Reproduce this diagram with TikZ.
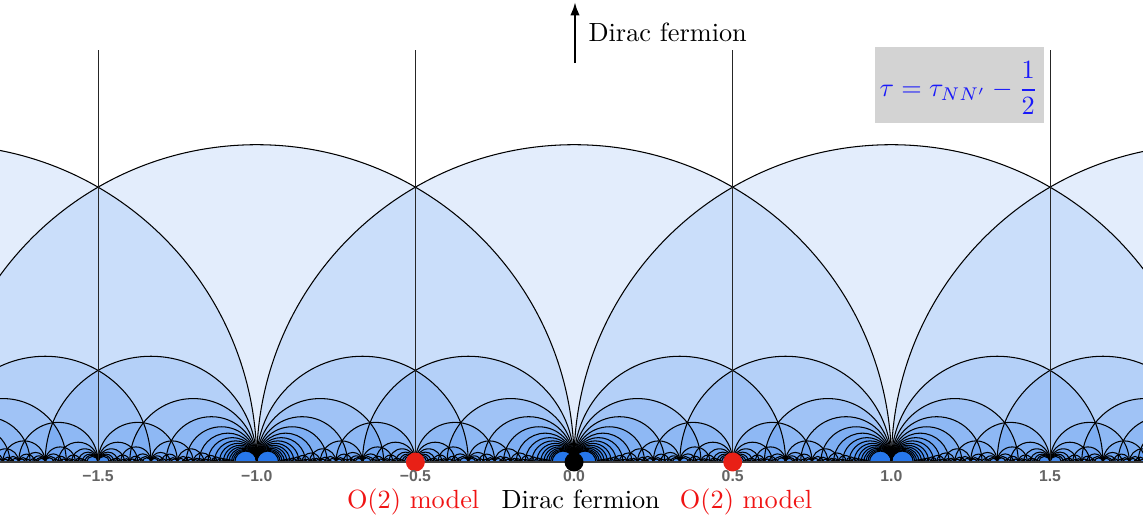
\documentclass[tikz,border=0pt]{standalone}
\usepackage{fontspec}
\newfontfamily\ticksf{Liberation Sans}
\usetikzlibrary{arrows.meta}
\definecolor{tessblue}{RGB}{0,95,230}
\definecolor{dotred}{RGB}{232,32,22}
\definecolor{labred}{RGB}{240,20,20}
\definecolor{ticklab}{RGB}{100,100,100}
\definecolor{axisgray}{RGB}{60,60,60}
\definecolor{boxgray}{RGB}{211,211,211}
\definecolor{formblue}{RGB}{25,25,250}

% recursion over Farey edges; each Farey edge gives one geodesic of the tessellation
\def\Nmax{29}
\def\geoaction#1#2{}
\def\geod#1#2#3#4{%
  \ifnum\numexpr#2+#4\relax>\Nmax\relax
    \let\geonext\relax
  \else
    \edef\gma{\the\numexpr#1+#3\relax}%
    \edef\gmb{\the\numexpr#2+#4\relax}%
    \edef\gaa{\the\numexpr#1-#3\relax}%
    \edef\gab{\the\numexpr#2-#4\relax}%
    \pgfmathsetmacro\gcc{(\gma)/(\gmb)/2+(\gaa)/(\gab)/2}%
    \pgfmathsetmacro\grr{1/abs((\gmb)*(\gab))}%
    \geoaction{\gcc}{\grr}%
    \edef\geonext{\noexpand\geod{#1}{#2}{\gma}{\gmb}\noexpand\geod{\gma}{\gmb}{#3}{#4}}%
  \fi
  \geonext}
\def\allgeod{%
  \foreach \c in {-2,...,2}{\geoaction{\c}{1}}%
  \foreach \n in {-2,...,1}{%
    \pgfmathtruncatemacro\nm{2*\n+1}%
    \pgfmathtruncatemacro\np{\n+1}%
    \geod{\n}{1}{\nm}{2}\geod{\nm}{2}{\np}{1}}%
}

\tikzset{
  ticklabel/.style={font=\ticksf\bfseries\fontsize{6}{7}\selectfont, text=ticklab, anchor=base, inner sep=0pt},
  pointlabel/.style={font=\fontsize{10}{12}\selectfont, anchor=base, inner sep=0pt},
  cuspdot/.style={circle, inner sep=0pt, minimum size=7.2pt},
  halfline/.style={draw=black!85, line width=0.4pt},
}

\begin{document}
\begin{tikzpicture}[x=4.24cm,y=4.24cm]
\useasboundingbox (-1.809,-0.180) rectangle (1.793,1.456);

\begin{scope}
  \clip (-1.809,0) rectangle (1.793,1.2);
  % shading: every region is darkened once per geodesic disk containing it
  \begin{scope}[fill=tessblue, fill opacity=0.11]
    \def\geoaction#1#2{\fill (#1+#2,0) arc[start angle=0,end angle=180,radius=#2] -- cycle;}
    \allgeod
  \end{scope}
  % edges of the tessellation (the tiniest ones are left out)
  \begin{scope}[draw=black, line width=0.4pt]
    \def\geoaction#1#2{\pgfmathparse{#2>0.0055?1:0}\ifnum\pgfmathresult=1 \draw (#1+#2,0) arc[start angle=0,end angle=180,radius=#2];\fi}
    \allgeod
  \end{scope}
\end{scope}

% vertical half-integer lines
\foreach \v in {-1.5,-0.5,0.5,1.5}{
  \draw[halfline] (\v,0) -- (\v,1.298);
}

% real axis
\coordinate (axL) at (-1.809,0);
\coordinate (axR) at (1.793,0);
\draw[axisgray, line width=1pt] (axL) -- (axR);

% special points
\node[cuspdot, fill=dotred] (dotL) at (-0.5,0) {};
\node[cuspdot, fill=black] (dotM) at (0,0) {};
\node[cuspdot, fill=dotred] (dotR) at (0.5,0) {};

% tick labels
\node[ticklabel] (tk1) at (-1.5,-0.060) {−1.5};
\node[ticklabel] (tk2) at (-1.0,-0.060) {−1.0};
\node[ticklabel] (tk3) at (-0.5,-0.060) {−0.5};
\node[ticklabel] (tk4) at (0,-0.060) {0.0};
\node[ticklabel] (tk5) at (0.5,-0.060) {0.5};
\node[ticklabel] (tk6) at (1.0,-0.060) {1.0};
\node[ticklabel] (tk7) at (1.5,-0.060) {1.5};

% labels of the points
\node[pointlabel, text=labred] (labL) at (-0.507,-0.148) {O(2) model};
\node[pointlabel, text=black] (labM) at (0.021,-0.148) {Dirac fermion};
\node[pointlabel, text=labred] (labR) at (0.542,-0.148) {O(2) model};

% arrow to infinity
\coordinate (arrbase) at (0.003,1.257);
\coordinate (arrtip) at (0.003,1.449);
\draw[line width=0.8pt, -{Latex[length=5pt,width=3.6pt]}] (arrbase) -- (arrtip);
\node[anchor=base west, inner sep=0pt, font=\fontsize{10}{12}\selectfont] (topDirac) at (0.044,1.324) {Dirac fermion};

% formula box
\node[fill=boxgray, inner sep=0pt, minimum width=2.259cm, minimum height=1.015cm] (fbox) at (1.215,1.187) {};
\node[inner sep=0pt, text=formblue, font=\fontsize{10}{12}\selectfont] (formula) at (1.2124,1.178) {$\displaystyle \tau=\tau_{NN'}-\frac{1}{2}$};
\end{tikzpicture}
\end{document}
